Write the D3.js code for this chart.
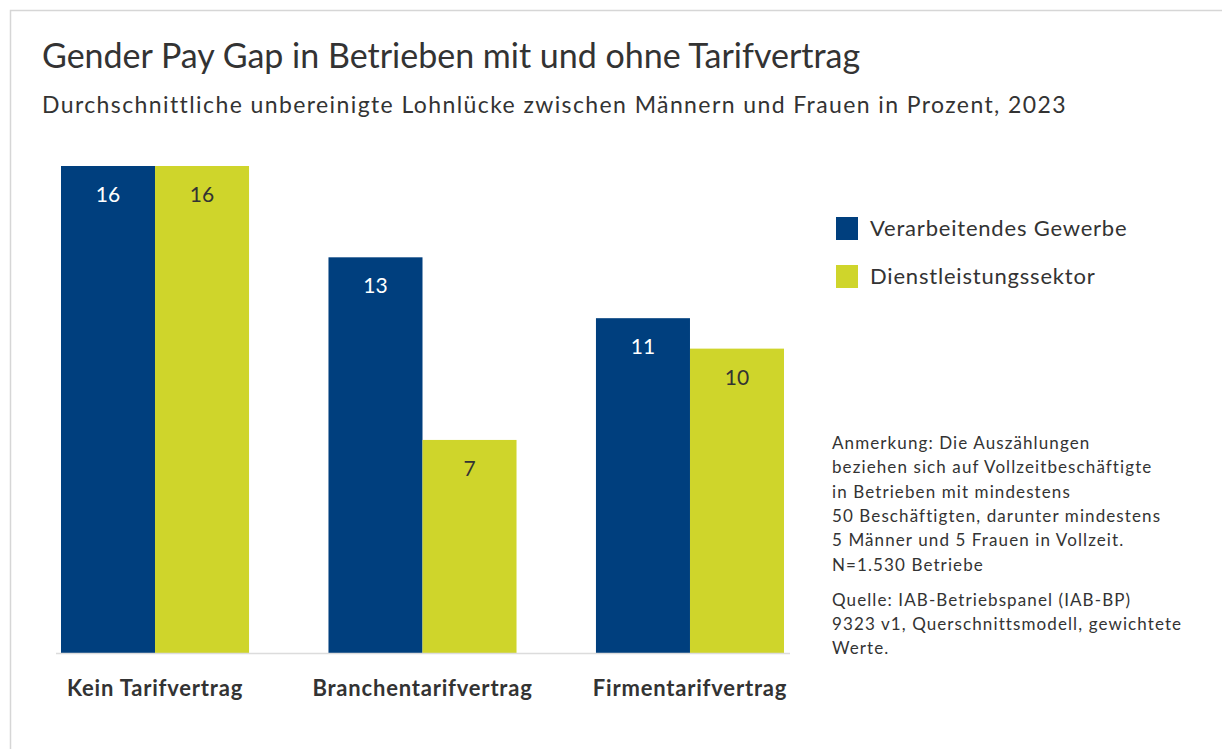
<!DOCTYPE html>
<html>
<head>
<meta charset="utf-8">
<script src="https://cdn.jsdelivr.net/npm/d3@7"></script>
<style>
  body { margin: 0; background: #fff; }
  svg { display: block; font-family: Lato, "Open Sans", sans-serif; }
</style>
</head>
<body>
<div id="chart"></div>
<script>
// Data
const categories = ['Kein Tarifvertrag', 'Branchentarifvertrag', 'Firmentarifvertrag'];
const seriesNames = ['Verarbeitendes Gewerbe', 'Dienstleistungssektor'];
const verarbeitend = [16, 13, 11];
const dienstleistung = [16, 7, 10];
const seriesColors = ['#003f7e', '#cfd52b'];
const labelColors = ['#ffffff', '#333333'];
const noteLines = [
    'Anmerkung: Die Auszählungen',
    'beziehen sich auf Vollzeitbeschäftigte',
    'in Betrieben mit mindestens',
    '50 Beschäftigten, darunter mindestens',
    '5 Männer und 5 Frauen in Vollzeit.',
    'N=1.530 Betriebe'
];
const sourceLines = [
    'Quelle: IAB-Betriebspanel (IAB-BP)',
    '9323 v1, Querschnittsmodell, gewichtete',
    'Werte.'
];

const width = 1222, height = 749;

const svg = d3.select('#chart').append('svg')
    .attr('width', width)
    .attr('height', height);

// Frame
svg.append('rect')
    .attr('x', 10.5).attr('y', 10.5)
    .attr('width', width + 20).attr('height', height + 20)
    .attr('fill', 'none')
    .attr('stroke', '#d6d6d6')
    .attr('stroke-width', 1.5);

// Titles
svg.append('text')
    .attr('x', 42).attr('y', 68)
    .style('font-size', '34px')
    .style('fill', '#333')
    .text('Gender Pay Gap in Betrieben mit und ohne Tarifvertrag');

svg.append('text')
    .attr('x', 42).attr('y', 113)
    .style('font-size', '23px')
    .style('letter-spacing', '1.4px')
    .style('fill', '#333')
    .text('Durchschnittliche unbereinigte Lohnlücke zwischen Männern und Frauen in Prozent, 2023');

// Scales
const x0 = d3.scaleBand().domain(categories).range([61, 784]).paddingInner(0.297);
const x1 = d3.scaleBand().domain(seriesNames).range([0, x0.bandwidth()]);
const y = d3.scaleLinear().domain([0, 16]).range([653, 166]);
const color = d3.scaleOrdinal().domain(seriesNames).range(seriesColors);

const rows = categories.map((c, i) => ({
    category: c,
    values: [
        { series: seriesNames[0], value: verarbeitend[i] },
        { series: seriesNames[1], value: dienstleistung[i] }
    ]
}));

const groups = svg.selectAll('.group')
    .data(rows)
    .enter().append('g')
    .attr('class', 'group')
    .attr('transform', d => `translate(${x0(d.category)},0)`);

groups.selectAll('rect')
    .data(d => d.values)
    .enter().append('rect')
    .attr('x', d => x1(d.series))
    .attr('y', d => y(d.value))
    .attr('width', x1.bandwidth())
    .attr('height', d => y(0) - y(d.value))
    .attr('fill', d => color(d.series));

groups.selectAll('.val')
    .data(d => d.values)
    .enter().append('text')
    .attr('class', 'val')
    .attr('x', d => x1(d.series) + x1.bandwidth() / 2)
    .attr('y', d => y(d.value) + 36)
    .attr('text-anchor', 'middle')
    .style('font-size', '21px')
    .style('fill', d => labelColors[seriesNames.indexOf(d.series)])
    .text(d => d.value);

// Baseline
svg.append('line')
    .attr('x1', 56).attr('x2', 790)
    .attr('y1', y(0) + 0.5).attr('y2', y(0) + 0.5)
    .attr('stroke', '#dcdcdc')
    .attr('stroke-width', 1.5);

// Category axis labels
const xAxis = svg.append('g')
    .attr('transform', `translate(0,${y(0)})`)
    .call(d3.axisBottom(x0).tickSize(0).tickPadding(0));
xAxis.select('.domain').remove();
xAxis.selectAll('text')
    .attr('dy', null)
    .attr('y', 43)
    .style('font-family', 'Lato, sans-serif')
    .style('font-size', '22px')
    .style('font-weight', 'bold')
    .style('letter-spacing', '0.8px')
    .style('fill', '#333');

// Legend
const legend = svg.append('g').attr('transform', 'translate(836,217)');
seriesNames.forEach((s, i) => {
    legend.append('rect')
        .attr('x', 0).attr('y', i * 48)
        .attr('width', 22).attr('height', 23)
        .attr('fill', color(s));
    legend.append('text')
        .attr('x', 34).attr('y', i * 48 + 19)
        .style('font-size', '22px')
        .style('letter-spacing', '0.8px')
        .style('fill', '#333')
        .text(s);
});

// Notes
const notes = svg.append('g').attr('transform', 'translate(832,0)');
noteLines.forEach((t, i) => {
    notes.append('text')
        .attr('x', 0).attr('y', 449 + i * 24.3)
        .style('font-size', '17px')
        .style('letter-spacing', '1.1px')
        .style('fill', '#333')
        .text(t);
});
sourceLines.forEach((t, i) => {
    notes.append('text')
        .attr('x', 0).attr('y', 606 + i * 24)
        .style('font-size', '17px')
        .style('letter-spacing', '1.1px')
        .style('fill', '#333')
        .text(t);
});
</script>
</body>
</html>
